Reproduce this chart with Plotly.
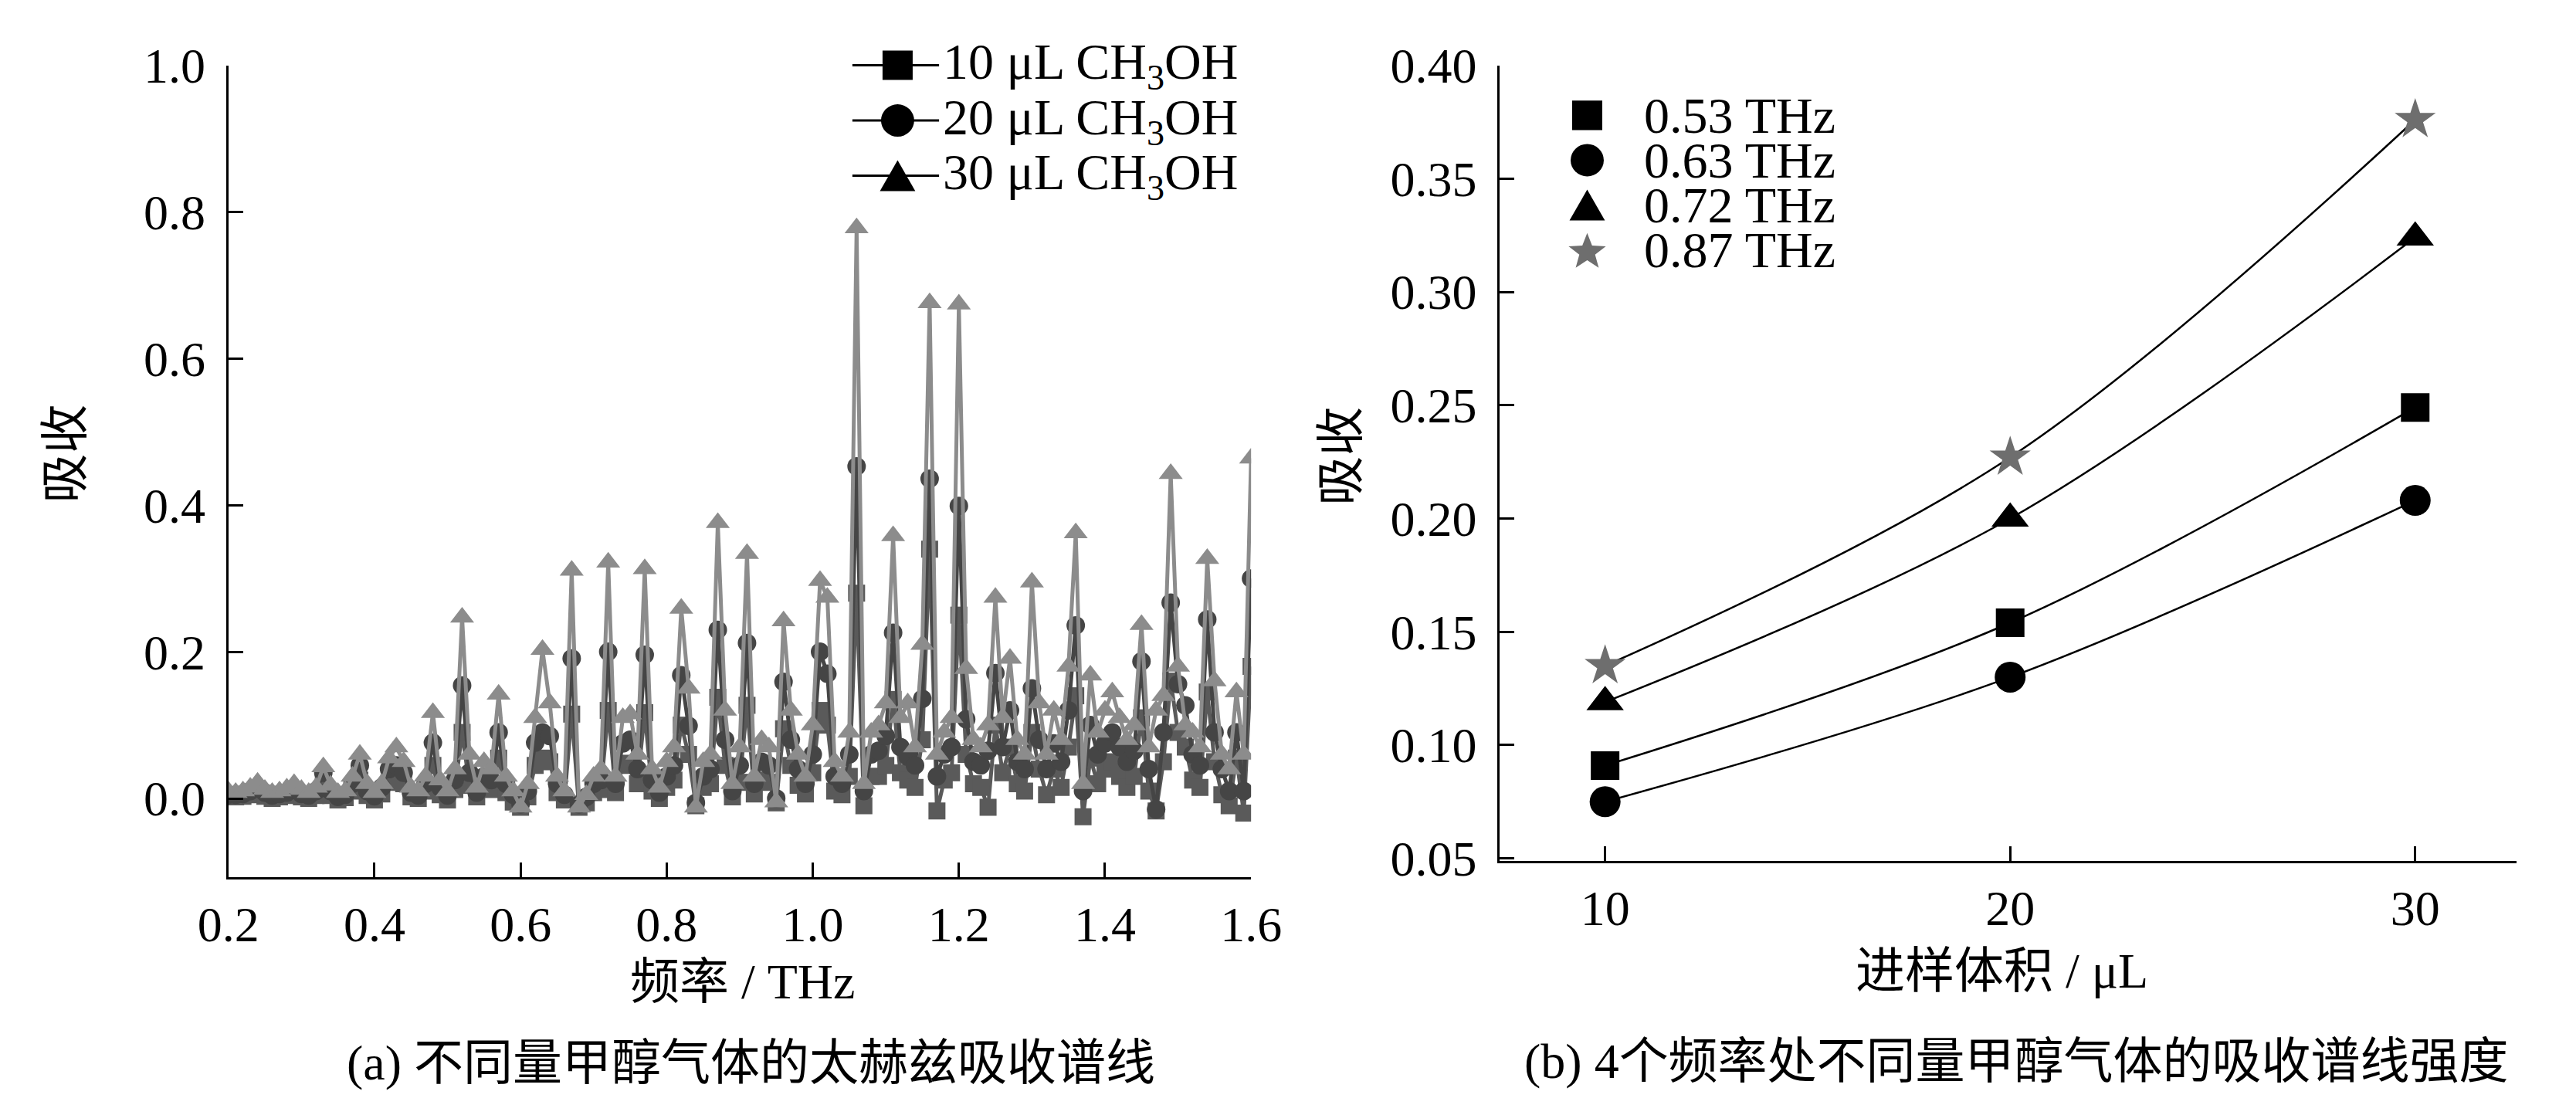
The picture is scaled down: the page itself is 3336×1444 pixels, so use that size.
import math
import plotly.graph_objects as go

W, H = 3336, 1444
FONT = "Liberation Serif, Noto Sans CJK SC"

# ---- (a) spectra, 0.01 THz grid ----
freq = [
    0.20, 0.21, 0.22, 0.23, 0.24, 0.25, 0.26, 0.27, 0.28, 0.29,
    0.30, 0.31, 0.32, 0.33, 0.34, 0.35, 0.36, 0.37, 0.38, 0.39,
    0.40, 0.41, 0.42, 0.43, 0.44, 0.45, 0.46, 0.47, 0.48, 0.49,
    0.50, 0.51, 0.52, 0.53, 0.54, 0.55, 0.56, 0.57, 0.58, 0.59,
    0.60, 0.61, 0.62, 0.63, 0.64, 0.65, 0.66, 0.67, 0.68, 0.69,
    0.70, 0.71, 0.72, 0.73, 0.74, 0.75, 0.76, 0.77, 0.78, 0.79,
    0.80, 0.81, 0.82, 0.83, 0.84, 0.85, 0.86, 0.87, 0.88, 0.89,
    0.90, 0.91, 0.92, 0.93, 0.94, 0.95, 0.96, 0.97, 0.98, 0.99,
    1.00, 1.01, 1.02, 1.03, 1.04, 1.05, 1.06, 1.07, 1.08, 1.09,
    1.10, 1.11, 1.12, 1.13, 1.14, 1.15, 1.16, 1.17, 1.18, 1.19,
    1.20, 1.21, 1.22, 1.23, 1.24, 1.25, 1.26, 1.27, 1.28, 1.29,
    1.30, 1.31, 1.32, 1.33, 1.34, 1.35, 1.36, 1.37, 1.38, 1.39,
    1.40, 1.41, 1.42, 1.43, 1.44, 1.45, 1.46, 1.47, 1.48, 1.49,
    1.50, 1.51, 1.52, 1.53, 1.54, 1.55, 1.56, 1.57, 1.58, 1.59,
    1.60,
]

abs_10ul = [
    0.002, 0.002, 0.003, 0.005, 0.008, 0.003, 0.000, 0.002, 0.004, 0.006,
    0.002, 0.000, 0.004, 0.020, 0.004, -0.002, 0.001, 0.010, 0.025, 0.004,
    -0.002, 0.006, 0.022, 0.028, 0.020, 0.002, 0.000, 0.010, 0.045, 0.005,
    -0.002, 0.012, 0.090, 0.018, 0.002, 0.015, 0.012, 0.055, 0.008, -0.005,
    -0.012, 0.002, 0.045, 0.055, 0.050, 0.008, -0.002, 0.115, -0.012, -0.006,
    0.008, 0.012, 0.120, 0.008, 0.045, 0.048, 0.020, 0.117, 0.010, 0.000,
    0.015, 0.025, 0.100, 0.060, -0.010, 0.015, 0.020, 0.138, 0.045, 0.002,
    0.022, 0.127, 0.006, 0.025, 0.022, -0.006, 0.095, 0.045, 0.018, 0.006,
    0.035, 0.120, 0.100, 0.010, 0.005, 0.030, 0.280, -0.010, 0.030, 0.030,
    0.045, 0.135, 0.035, 0.025, 0.015, 0.080, 0.340, -0.017, 0.025, 0.035,
    0.250, 0.060, 0.020, 0.015, -0.012, 0.100, 0.035, 0.070, 0.020, 0.010,
    0.090, 0.040, 0.005, 0.040, 0.015, 0.070, 0.140, -0.025, 0.055, 0.020,
    0.040, 0.050, 0.030, 0.015, 0.030, 0.110, 0.010, -0.017, 0.050, 0.160,
    0.090, 0.070, 0.025, 0.015, 0.145, 0.050, 0.005, -0.010, 0.055, -0.020,
    0.180,
]

abs_20ul = [
    0.005, 0.005, 0.006, 0.010, 0.015, 0.008, 0.004, 0.006, 0.008, 0.012,
    0.006, 0.004, 0.010, 0.035, 0.010, 0.002, 0.005, 0.020, 0.045, 0.010,
    0.003, 0.015, 0.040, 0.045, 0.035, 0.008, 0.004, 0.020, 0.076, 0.015,
    0.004, 0.025, 0.154, 0.035, 0.008, 0.030, 0.025, 0.090, 0.020, 0.005,
    -0.008, 0.010, 0.076, 0.090, 0.085, 0.020, 0.005, 0.191, -0.008, 0.002,
    0.020, 0.025, 0.200, 0.020, 0.075, 0.080, 0.040, 0.196, 0.025, 0.008,
    0.030, 0.045, 0.168, 0.099, -0.006, 0.030, 0.040, 0.230, 0.080, 0.010,
    0.045, 0.212, 0.020, 0.050, 0.045, 0.000, 0.159, 0.080, 0.040, 0.020,
    0.060, 0.200, 0.170, 0.030, 0.020, 0.060, 0.453, 0.010, 0.060, 0.065,
    0.085, 0.226, 0.070, 0.057, 0.045, 0.136, 0.436, 0.030, 0.060, 0.070,
    0.399, 0.108, 0.050, 0.045, 0.065, 0.171, 0.070, 0.120, 0.050, 0.040,
    0.150, 0.080, 0.040, 0.075, 0.050, 0.120, 0.236, 0.010, 0.100, 0.060,
    0.075, 0.090, 0.070, 0.050, 0.065, 0.187, 0.040, -0.015, 0.090, 0.267,
    0.156, 0.127, 0.060, 0.045, 0.244, 0.090, 0.040, 0.010, 0.090, 0.010,
    0.300,
]

abs_30ul = [
    0.010, 0.008, 0.010, 0.015, 0.022, 0.012, 0.008, 0.010, 0.014, 0.020,
    0.012, 0.008, 0.015, 0.043, 0.018, 0.008, 0.010, 0.030, 0.060, 0.020,
    0.008, 0.020, 0.055, 0.070, 0.050, 0.015, 0.010, 0.030, 0.117, 0.025,
    0.010, 0.040, 0.247, 0.060, 0.015, 0.050, 0.040, 0.142, 0.030, 0.010,
    -0.012, 0.020, 0.110, 0.203, 0.130, 0.030, 0.010, 0.311, -0.012, 0.005,
    0.030, 0.040, 0.322, 0.030, 0.110, 0.115, 0.060, 0.313, 0.040, 0.015,
    0.050, 0.070, 0.259, 0.150, -0.012, 0.050, 0.060, 0.376, 0.120, 0.020,
    0.070, 0.334, 0.030, 0.080, 0.070, -0.005, 0.242, 0.120, 0.060, 0.030,
    0.100, 0.297, 0.274, 0.050, 0.030, 0.090, 0.778, 0.020, 0.090, 0.100,
    0.130, 0.358, 0.110, 0.130, 0.070, 0.210, 0.676, 0.060, 0.090, 0.110,
    0.674, 0.177, 0.080, 0.070, 0.100, 0.274, 0.110, 0.191, 0.080, 0.060,
    0.295, 0.130, 0.060, 0.120, 0.080, 0.180, 0.362, 0.020, 0.168, 0.090,
    0.120, 0.145, 0.110, 0.080, 0.100, 0.237, 0.070, 0.120, 0.140, 0.443,
    0.180, 0.100, 0.090, 0.070, 0.327, 0.160, 0.060, 0.040, 0.145, 0.060,
    0.464,
]

spectra_names = ["10 μL CH<sub>3</sub>OH", "20 μL CH<sub>3</sub>OH", "30 μL CH<sub>3</sub>OH"]

# ---- (b) intensity vs injected volume ----
volume = [10, 20, 30]
band_labels = ["0.53 THz", "0.63 THz", "0.72 THz", "0.87 THz"]
abs_053 = [0.091, 0.154, 0.249]
abs_063 = [0.075, 0.130, 0.208]
abs_072 = [0.119, 0.200, 0.324]
abs_087 = [0.135, 0.227, 0.376]


def px(x):
    return x / W


def py(y):
    return 1 - y / H


fig = go.Figure()

# spectra (drawn 10 -> 20 -> 30 so triangles sit on top)
spec_style = [("square", "#5a5a5a", 22), ("circle", "#454545", 24), ("triangle-up", "#8c8c8c", 27)]
for vals, (sym, col, size) in zip([abs_10ul, abs_20ul, abs_30ul], spec_style):
    fig.add_trace(go.Scatter(
        x=freq, y=vals, mode="lines+markers",
        line=dict(color=col, width=5),
        marker=dict(symbol=sym, size=size, color=col),
        xaxis="x", yaxis="y", showlegend=False,
    ))

# fitted curves + points
band_style = [("square", "black", 37), ("circle", "black", 40),
              ("triangle-up", "black", 42), ("star", "#6e6e6e", 40)]
for vals, (sym, col, size) in zip([abs_053, abs_063, abs_072, abs_087], band_style):
    fig.add_trace(go.Scatter(
        x=volume, y=vals, mode="lines",
        line=dict(color="black", width=2.5, shape="spline", smoothing=1.0),
        xaxis="x2", yaxis="y2", showlegend=False,
    ))
    fig.add_trace(go.Scatter(
        x=volume, y=vals, mode="markers",
        marker=dict(symbol=sym, size=size, color=col, line=dict(width=0)),
        xaxis="x2", yaxis="y2", showlegend=False,
    ))

axis_common = dict(
    showline=True, linewidth=3, linecolor="black", mirror=False,
    ticks="inside", ticklen=19, tickwidth=3, tickcolor="black",
    showgrid=False, zeroline=False,
    tickfont=dict(family=FONT, size=64, color="black"),
)

fig.update_layout(
    width=W, height=H,
    margin=dict(l=0, r=0, t=0, b=0),
    paper_bgcolor="white", plot_bgcolor="white",
    font=dict(family=FONT, size=64, color="black"),
    xaxis=dict(domain=[px(262), px(1619)], range=[0.2, 1.6], dtick=0.2,
               tick0=0.2, tickformat=".1f", anchor="y", ticklabelstandoff=4,
               **axis_common),
    yaxis=dict(domain=[py(1155), py(52)], range=[-0.107, 1.0], dtick=0.2,
               tick0=0, tickformat=".1f", anchor="x", ticklabelstandoff=14,
               **axis_common),
    xaxis2=dict(domain=[px(1949), px(3298)], range=[7.4, 32.5],
                tickvals=volume, anchor="y2", ticklabelstandoff=4,
                **axis_common),
    yaxis2=dict(domain=[py(1133), py(52)], range=[0.049, 0.40], dtick=0.05,
                tick0=0.05, tickformat=".2f", anchor="x2", ticklabelstandoff=14,
                **axis_common),
)

# axis titles and captions
texts = [
    ("吸收", 46, 580, -90),
    ("频率 / THz", 945, 1298, 0),
    ("(a) 不同量甲醇气体的太赫兹吸收谱线", 955, 1408, 0),
    ("吸收", 1738, 583, -90),
    ("进样体积 / μL", 2615, 1283, 0),
    ("(b) 4个频率处不同量甲醇气体的吸收谱线强度", 2635, 1406, 0),
]
for t, x, y, ang in texts:
    fig.add_annotation(text=t, x=px(x), y=py(y), xref="paper", yref="paper",
                       showarrow=False, textangle=ang,
                       xanchor="center", yanchor="middle",
                       font=dict(family=FONT, size=64, color="black"))

shapes = []


def tri_path(cx, cy, w, h):
    return (f"M {px(cx - w / 2)},{py(cy + h / 2)} L {px(cx + w / 2)},{py(cy + h / 2)} "
            f"L {px(cx)},{py(cy - h / 2)} Z")


def star_path(cx, cy, r_out, r_in):
    pts = []
    for k in range(10):
        r = r_out if k % 2 == 0 else r_in
        a = -math.pi / 2 + k * math.pi / 5
        pts.append((px(cx + r * math.cos(a)), py(cy + r * math.sin(a))))
    return "M " + " L ".join(f"{a},{b}" for a, b in pts) + " Z"


def legend_symbol(sym, cx, cy, col):
    if sym == "square":
        shapes.append(dict(type="rect", xref="paper", yref="paper",
                           x0=px(cx - 20), x1=px(cx + 20), y0=py(cy + 20), y1=py(cy - 20),
                           fillcolor=col, line=dict(width=0)))
    elif sym == "circle":
        shapes.append(dict(type="circle", xref="paper", yref="paper",
                           x0=px(cx - 22), x1=px(cx + 22), y0=py(cy + 22), y1=py(cy - 22),
                           fillcolor=col, line=dict(width=0)))
    elif sym == "triangle-up":
        shapes.append(dict(type="path", xref="paper", yref="paper",
                           path=tri_path(cx, cy, 47, 42), fillcolor=col, line=dict(width=0)))
    else:
        shapes.append(dict(type="path", xref="paper", yref="paper",
                           path=star_path(cx, cy + 3, 26, 11), fillcolor=col, line=dict(width=0)))


# legend (a): line + symbol + label
for name, (sym, _, _), row in zip(spectra_names, spec_style, [52, 127, 202]):
    shapes.append(dict(type="line", xref="paper", yref="paper",
                       x0=px(1090), x1=px(1205), y0=py(row), y1=py(row),
                       line=dict(color="black", width=3)))
    legend_symbol(sym, 1150, row, "black")
    fig.add_annotation(text=name, x=px(1208), y=py(row), xref="paper", yref="paper",
                       showarrow=False, xanchor="left", yanchor="middle",
                       font=dict(family=FONT, size=66, color="black"))

# legend (b): symbol + label
for name, (sym, col, _), row in zip(band_labels, band_style, [120, 181, 242, 303]):
    legend_symbol(sym, 2065, row, col)
    fig.add_annotation(text=name, x=px(2138), y=py(row), xref="paper", yref="paper",
                       showarrow=False, xanchor="left", yanchor="middle",
                       font=dict(family=FONT, size=66, color="black"))

fig.update_layout(shapes=shapes)

fig.write_html("out.html", config={"displayModeBar": False},
               post_script="document.body.style.margin='0';")
